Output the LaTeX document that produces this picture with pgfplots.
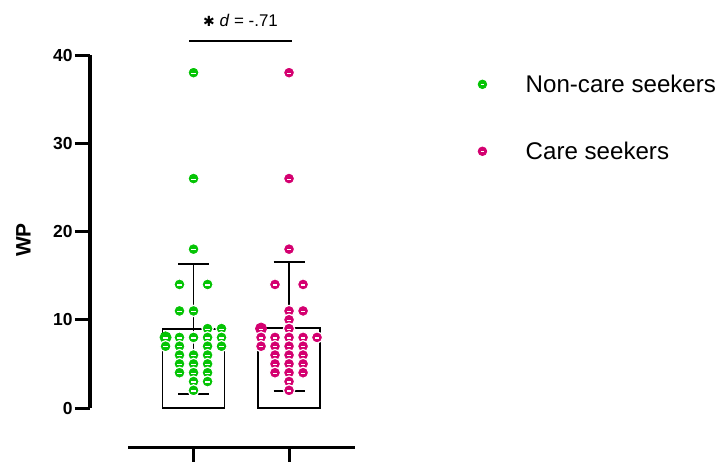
\documentclass[border=0pt]{standalone}
\usepackage{pgfplots}
\pgfplotsset{compat=1.18}
\usepackage{pgfplotstable}
\usepackage{fontspec}
\setmainfont{Liberation Sans}
\newfontfamily\dejavu{DejaVu Sans}
\definecolor{cgreen}{RGB}{5,196,5}
\definecolor{cpink}{RGB}{212,0,112}
\pgfdeclareplotmark{seg}{%
  \pgfpathcircle{\pgfpointorigin}{\pgfplotmarksize}\pgfusepathqfillstroke
  \pgfsetstrokecolor{white}\pgfsetlinewidth{1.2bp}%
  \pgfpathmoveto{\pgfqpoint{-0.4\pgfplotmarksize}{-0.1\pgfplotmarksize}}%
  \pgfpathlineto{\pgfqpoint{0.4\pgfplotmarksize}{-0.1\pgfplotmarksize}}%
  \pgfusepathqstroke}

\pgfplotstableread{
x y
1 8.95
2 9.10
}\bars

\pgfplotstableread{
x y
0.707 8
0.707 7
0.853 14
0.853 11
0.853 8
0.853 7
0.853 6
0.853 5
0.853 4
1.000 38
1.000 26
1.000 18
1.000 11
1.000 8
1.000 6
1.000 5
1.000 4
1.000 3
1.000 2
1.147 14
1.147 9
1.147 8
1.147 7
1.147 6
1.147 5
1.147 4
1.147 3
1.293 9
1.293 8
1.293 7
}\green

\pgfplotstableread{
x y
1.707 9
1.707 8
1.707 7
1.853 14
1.853 8
1.853 7
1.853 6
1.853 5
1.853 4
2.000 38
2.000 26
2.000 18
2.000 11
2.000 10
2.000 9
2.000 8
2.000 7
2.000 6
2.000 5
2.000 4
2.000 3
2.000 2
2.147 14
2.147 11
2.147 8
2.147 7
2.147 6
2.147 5
2.147 4
2.293 8
}\pink

\begin{document}
\begin{tikzpicture}
\path[use as bounding box] (0,0) rectangle (721bp,-462bp);
\begin{axis}[
  at={(90bp,-408bp)}, anchor=south west,
  scale only axis, width=265.9bp, height=353bp,
  xmin=-0.084, xmax=2.7, ymin=0, ymax=40,
  clip=false,
  axis x line=none, axis y line*=left,
  axis line style={line width=3bp, black},
  ytick={0,10,20,30,40},
  tick align=outside, major tick length=15bp,
  every tick/.style={line width=3bp, black},
  /pgf/number format/assume math mode=true,
  yticklabel style={font=\bfseries\fontsize{17.5}{17.5}\selectfont, xshift=1bp},
  ylabel={WP},
  ylabel style={at={(axis description cs:-0.25,0.476)}, anchor=center, rotate=0, font=\bfseries\fontsize{21}{21}\selectfont},
  legend style={at={(axis description cs:1.459,0.95)}, anchor=north west, draw=none, fill=none,
    font=\fontsize{24.2}{28}\selectfont, row sep=44bp, inner sep=0pt,
    /tikz/every even column/.append style={column sep=0bp}},
  legend cell align=left,
  legend image code/.code={\draw[#1, mark size=4.3bp] plot coordinates {(0bp,0bp)};},
]
\addplot[ybar, bar width=62bp, fill=white, draw=black, line width=1.8bp, forget plot]
  table[x=x, y=y] {\bars};
% error bars (mean +- SD)
\addplot[black, line width=1.8bp, forget plot] coordinates {(1,1.6) (1,16.3)};
\addplot[black, line width=1.8bp, forget plot] coordinates {(0.838,16.3) (1.162,16.3)};
\addplot[black, line width=1.8bp, forget plot] coordinates {(0.838,1.6) (1.162,1.6)};
\addplot[black, line width=1.8bp, forget plot] coordinates {(2,1.9) (2,16.5)};
\addplot[black, line width=1.8bp, forget plot] coordinates {(1.838,16.5) (2.162,16.5)};
\addplot[black, line width=1.8bp, forget plot] coordinates {(1.838,1.9) (2.162,1.9)};
\addplot[only marks, mark=seg, mark size=5.6bp, draw=cgreen, fill=cgreen, line width=0.8bp] table {\green};
\addplot[only marks, mark=seg, mark size=5.6bp, draw=cpink, fill=cpink, line width=0.8bp] table {\pink};
\legend{\hspace*{37bp}Non-care seekers,\hspace*{37bp}Care seekers}
\draw[line width=3bp] (axis cs:0.314,-4.42) -- (axis cs:2.691,-4.42);
\draw[line width=3bp] (axis cs:1,-4.42) -- (axis cs:1,-6.3);
\draw[line width=3bp] (axis cs:2,-4.42) -- (axis cs:2,-6.3);
\draw[line width=1.8bp] (axis cs:0.953,41.59) -- (axis cs:2.031,41.59);
\node[font=\fontsize{17}{17}\selectfont] at (axis cs:1.492,43.97) {{\dejavu\fontsize{14}{14}\selectfont\char"2731}\ \textit{d} = -.71};
\end{axis}
\end{tikzpicture}
\end{document}
